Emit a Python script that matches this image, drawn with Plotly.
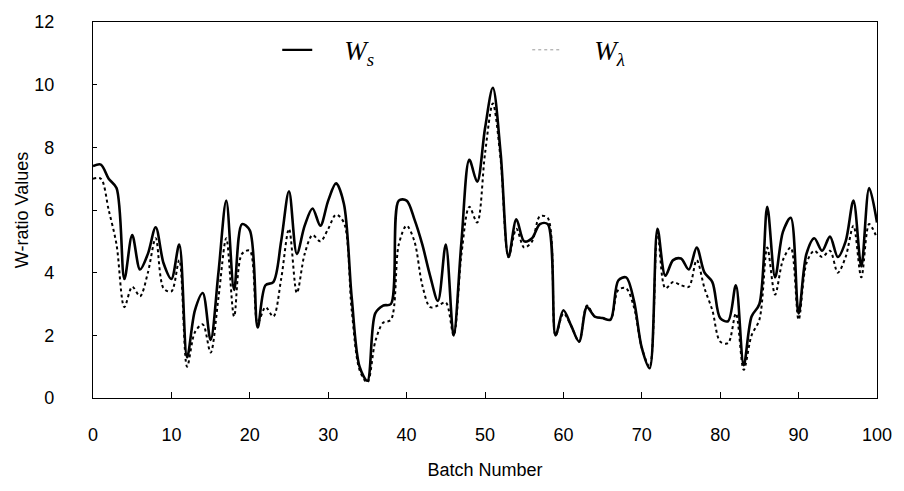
import plotly.graph_objects as go

batch = list(range(101))

w_s = [7.4, 7.45, 7.0, 6.7, 3.8, 5.2, 4.1, 4.6, 5.45, 4.3,
       3.8, 4.9, 1.3, 2.8, 3.35, 1.85, 4.0, 6.3, 3.45, 5.55,
       5.35, 2.25, 3.6, 3.7, 5.0, 6.6, 4.6, 5.5, 6.05, 5.5,
       6.3, 6.85, 6.2, 3.2, 1.0, 0.55, 2.7, 2.95, 3.0, 6.3,
       6.3, 5.7, 4.9, 3.9, 3.1, 4.9, 2.0, 5.0, 7.6, 6.9,
       8.6, 9.9, 7.8, 4.5, 5.7, 5.0, 5.1, 5.55, 5.55, 2.0,
       2.8, 2.3, 1.8, 2.9, 2.6, 2.55, 2.5, 3.75, 3.85, 3.1,
       1.6, 0.95, 5.4, 3.9, 4.4, 4.45, 4.1, 4.8, 4.0, 3.7,
       2.55, 2.45, 3.6, 1.05, 2.6, 3.0, 6.1, 3.85, 5.3, 5.75,
       2.7, 4.6, 5.1, 4.7, 5.15, 4.5, 5.0, 6.3, 4.2, 6.7,
       5.6]

w_lambda = [7.0, 7.0, 6.0, 4.9, 2.9, 3.55, 3.25, 4.0, 5.1, 3.5,
            3.4, 4.4, 1.0, 2.1, 2.35, 1.45, 3.2, 5.1, 2.6, 4.6,
            4.7, 2.4, 2.9, 2.6, 3.8, 5.4, 3.35, 4.6, 5.2, 5.0,
            5.4, 5.85, 5.6, 2.8, 0.9, 0.5, 1.8, 2.4, 2.5, 4.9,
            5.5, 5.0, 3.6, 2.9, 2.95, 3.05, 2.0, 4.6, 6.1, 5.6,
            7.8, 9.4, 7.6, 4.5, 5.4, 4.8, 5.0, 5.8, 5.75, 2.0,
            2.7, 2.3, 1.8, 2.95, 2.6, 2.55, 2.5, 3.45, 3.5, 2.9,
            1.6, 1.0, 5.3, 3.5, 3.7, 3.6, 3.55, 4.4, 3.5, 2.8,
            1.8, 1.75, 2.7, 0.9, 2.0, 2.5, 4.8, 3.3, 4.4, 4.8,
            2.5, 4.3, 4.7, 4.5, 4.7, 4.0, 4.5, 5.5, 3.85, 5.55,
            5.1]

x_ticks = list(range(0, 101, 10))
y_ticks = list(range(0, 13, 2))

fig = go.Figure()
fig.add_trace(go.Scatter(
    x=batch, y=w_lambda, mode="lines", showlegend=False,
    line=dict(color="black", width=2, dash="3px,3px", shape="spline", smoothing=0.9)))
fig.add_trace(go.Scatter(
    x=batch, y=w_s, mode="lines", showlegend=False,
    line=dict(color="black", width=2.6, shape="spline", smoothing=0.9)))

# legend entries
fig.add_trace(go.Scatter(
    x=[None], y=[None], mode="lines", name="\u00a0\u00a0\u00a0\u00a0<i>W<sub>s</sub></i>",
    line=dict(color="black", width=2.2)))
fig.add_trace(go.Scatter(
    x=[None], y=[None], mode="lines", name="\u00a0\u00a0\u00a0\u00a0<i>W<sub>λ</sub></i>",
    line=dict(color="#999999", width=1, dash="dot")))

fig.update_layout(
    width=904, height=491,
    margin=dict(l=93, r=26, t=19, b=93),
    paper_bgcolor="white", plot_bgcolor="white",
    font=dict(family="Liberation Sans, Arial, sans-serif", size=18, color="black"),
    legend=dict(
        orientation="h", x=0.235, y=0.99, xanchor="left", yanchor="top",
        bgcolor="rgba(0,0,0,0)", entrywidth=205,
        font=dict(family="Liberation Serif, Times New Roman, serif", size=27)),
    xaxis=dict(
        range=[0, 100], tickvals=x_ticks, ticks="inside", ticklen=6,
        tickcolor="black", showline=True, linecolor="black", linewidth=1.2,
        mirror=True, showgrid=False, zeroline=False,
        ticklabelstandoff=20,
        title=dict(text="Batch Number", font=dict(size=18), standoff=19)),
    yaxis=dict(
        range=[0, 12], tickvals=y_ticks, ticks="inside", ticklen=4,
        tickcolor="black", showline=True, linecolor="black", linewidth=1.2,
        mirror=True, showgrid=False, zeroline=False,
        ticklabelstandoff=34,
        title=dict(text="W-ratio Values", font=dict(size=18), standoff=0)),
)

fig.write_html("out.html")
